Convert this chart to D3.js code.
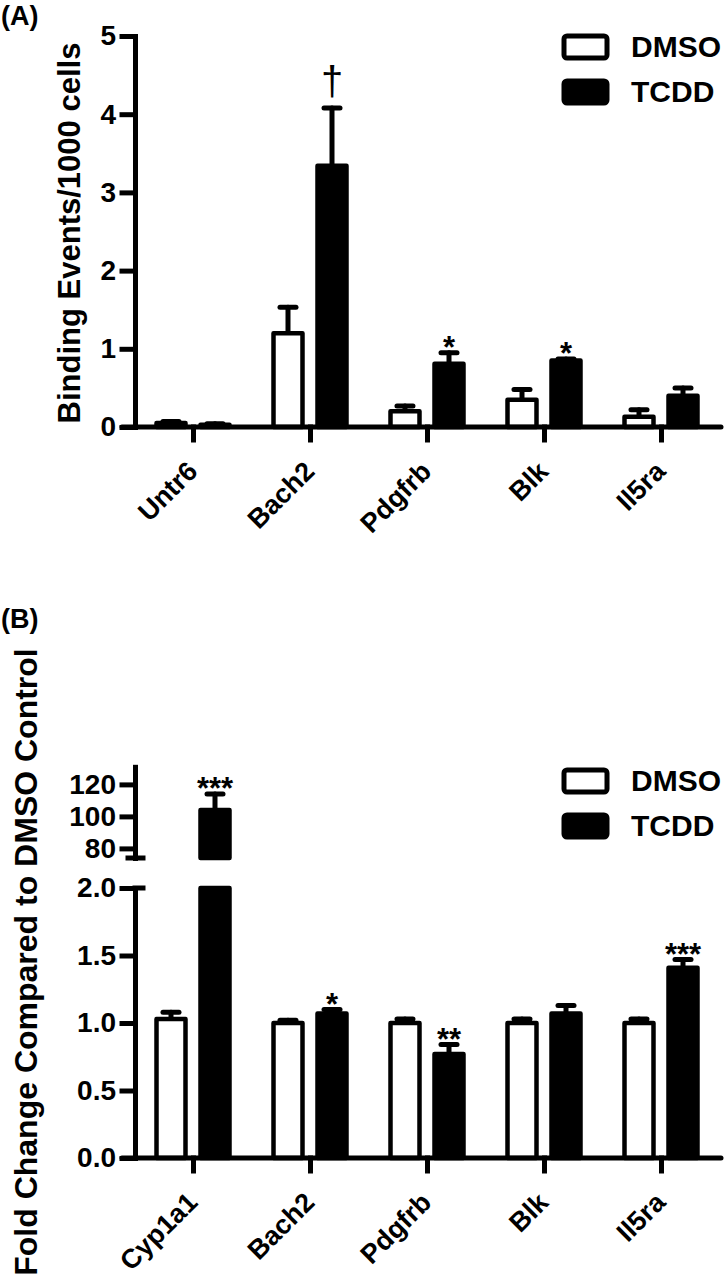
<!DOCTYPE html>
<html><head><meta charset="utf-8">
<script src="https://cdn.jsdelivr.net/npm/d3@7"></script>
<style>
body{margin:0;background:#fff}
svg{display:block}
</style>
</head><body><svg id="chart" width="726" height="1280"></svg>
<script>
// ---------- data ----------
const series = ["DMSO", "TCDD"];

const categoriesA = ["Untr6", "Bach2", "Pdgfrb", "Blk", "Il5ra"];
const dmsoA = [0.05, 1.20, 0.20, 0.35, 0.13];
const dmsoErrA = [0.02, 0.33, 0.07, 0.13, 0.09];
const tcddA = [0.03, 3.34, 0.81, 0.85, 0.40];
const tcddErrA = [0.01, 0.74, 0.14, 0.02, 0.10];
const annotA = ["", "\u2020", "*", "*", ""];
const ticksA = [0, 1, 2, 3, 4, 5];

const categoriesB = ["Cyp1a1", "Bach2", "Pdgfrb", "Blk", "Il5ra"];
const dmsoB = [1.03, 1.00, 1.00, 1.00, 1.00];
const dmsoErrB = [0.05, 0.02, 0.03, 0.03, 0.03];
const tcddB = [104, 1.07, 0.77, 1.07, 1.41];
const tcddErrB = [10, 0.03, 0.07, 0.06, 0.06];
const annotB = ["***", "*", "**", "", "***"];
const ticksBLow = [0, 0.5, 1.0, 1.5, 2.0];
const ticksBHigh = [80, 100, 120];

// ---------- setup ----------
const FONT = "'Liberation Sans', Arial, Helvetica, sans-serif";
const svg = d3.select("#chart");
svg.append("rect").attr("width", 726).attr("height", 1280).attr("fill", "#fff");

const AX_X = 135;
const SW = 5;

function styleAxis(g, fs) {
  g.attr("font-family", FONT).attr("font-size", fs).attr("font-weight", "bold");
  g.selectAll("path.domain").attr("stroke", "#000").attr("stroke-width", SW).attr("stroke-linecap", "square");
  g.selectAll(".tick line").attr("stroke", "#000").attr("stroke-width", SW).attr("stroke-linecap", "square");
  g.selectAll(".tick text").attr("fill", "#000");
}

function makeRows(cats, dm, dmE, tc, tcE) {
  const rows = [];
  cats.forEach((c, i) => {
    rows.push({cat: c, s: "DMSO", v: dm[i], e: dmE[i]});
    rows.push({cat: c, s: "TCDD", v: tc[i], e: tcE[i]});
  });
  return rows;
}

function drawPanel(opt) {
  const g = svg.append("g");
  const x = d3.scalePoint().domain(opt.cats).range([134.5, 719.5]).padding(0.5);
  const xSub = d3.scaleBand().domain(series).range([-36.5, 36.5]).paddingInner(0.341);
  const yLow = opt.yLow, yHigh = opt.yHigh;
  const base = yLow.range()[0];
  const lowMax = yLow.domain()[1];
  const rows = makeRows(opt.cats, opt.dm, opt.dmE, opt.tc, opt.tcE);
  const cx = d => x(d.cat) + xSub(d.s) + xSub.bandwidth() / 2;
  const errY = d => (d.v > lowMax && yHigh) ? yHigh(d.v + d.e) : yLow(d.v + d.e);

  // y axes
  const ay = g.append("g").attr("transform", `translate(${AX_X},0)`)
    .call(d3.axisLeft(yLow).tickValues(opt.ticksLow).tickFormat(opt.fmtLow)
      .tickSize(13).tickPadding(6).tickSizeOuter(0));
  styleAxis(ay, 28);
  if (yHigh) {
    const ah = g.append("g").attr("transform", `translate(${AX_X},0)`)
      .call(d3.axisLeft(yHigh).tickValues(opt.ticksHigh).tickFormat(d3.format("d"))
        .tickSize(13).tickPadding(6).tickSizeOuter(0));
    styleAxis(ah, 28);
    // break marks
    g.append("line").attr("x1", AX_X - 7).attr("x2", AX_X + 8)
      .attr("y1", yHigh.range()[0]).attr("y2", yHigh.range()[0])
      .attr("stroke", "#000").attr("stroke-width", SW).attr("stroke-linecap", "square");
    g.append("line").attr("x1", AX_X).attr("x2", AX_X + 8)
      .attr("y1", yLow.range()[1]).attr("y2", yLow.range()[1])
      .attr("stroke", "#000").attr("stroke-width", SW).attr("stroke-linecap", "square");
  }

  // error bars
  const eg = g.append("g").attr("stroke", "#000").attr("stroke-width", SW).attr("stroke-linecap", "round");
  rows.forEach(d => {
    const top = (d.v > lowMax && yHigh) ? yHigh(d.v) : yLow(d.v);
    eg.append("line").attr("x1", cx(d)).attr("x2", cx(d)).attr("y1", top).attr("y2", errY(d));
    eg.append("line").attr("x1", cx(d) - 8).attr("x2", cx(d) + 8).attr("y1", errY(d)).attr("y2", errY(d));
  });

  // bars (lower segment)
  g.append("g").selectAll("rect").data(rows).join("rect")
    .attr("x", d => x(d.cat) + xSub(d.s))
    .attr("width", xSub.bandwidth())
    .attr("y", d => yLow(Math.min(d.v, lowMax)))
    .attr("height", d => base - yLow(Math.min(d.v, lowMax)))
    .attr("fill", d => d.s === "DMSO" ? "#fff" : "#000")
    .attr("stroke", "#000").attr("stroke-width", 4.5).attr("stroke-linejoin", "round");

  // bars (upper segment)
  if (yHigh) {
    g.append("g").selectAll("rect").data(rows.filter(d => d.v > lowMax)).join("rect")
      .attr("x", d => x(d.cat) + xSub(d.s))
      .attr("width", xSub.bandwidth())
      .attr("y", d => yHigh(d.v))
      .attr("height", d => yHigh.range()[0] - yHigh(d.v))
      .attr("fill", d => d.s === "DMSO" ? "#fff" : "#000")
      .attr("stroke", "#000").attr("stroke-width", 4.5).attr("stroke-linejoin", "round");
  }

  // x axis
  g.append("line").attr("x1", 122).attr("x2", 721).attr("y1", base).attr("y2", base)
    .attr("stroke", "#000").attr("stroke-width", SW).attr("stroke-linecap", "round");
  const ax = g.append("g").attr("transform", `translate(0,${base})`)
    .call(d3.axisBottom(x).tickSize(13).tickSizeOuter(0).tickFormat(""));
  ax.select("path.domain").remove();
  styleAxis(ax, 27);

  // rotated category labels
  g.append("g").selectAll("text").data(opt.cats).join("text")
    .attr("transform", d => `translate(${x(d) + 6},${base + 46}) rotate(-45)`)
    .attr("text-anchor", "end")
    .attr("font-family", FONT).attr("font-weight", "bold").attr("font-size", 27)
    .attr("fill", "#000")
    .text(d => d);

  // annotations
  const tcRows = rows.filter(d => d.s === "TCDD");
  g.append("g").selectAll("text").data(tcRows).join("text")
    .attr("x", d => cx(d))
    .attr("y", (d, i) => opt.annot[i] === "\u2020" ? errY(d) - 13 : errY(d) + 5)
    .attr("text-anchor", "middle")
    .attr("font-family", FONT)
    .attr("font-weight", (d, i) => opt.annot[i] === "\u2020" ? "normal" : "bold")
    .attr("font-size", (d, i) => opt.annot[i] === "\u2020" ? 40 : 31)
    .text((d, i) => opt.annot[i]);

  // y label
  g.append("text")
    .attr("transform", `translate(${opt.labelX},${opt.labelY}) rotate(-90)`)
    .attr("text-anchor", "middle")
    .attr("font-family", FONT).attr("font-weight", "bold").attr("font-size", opt.labelSize)
    .text(opt.label);

  // legend
  const lg = g.append("g");
  series.forEach((s, i) => {
    lg.append("rect").attr("x", 564).attr("y", opt.legY + i * 45).attr("width", 43).attr("height", 22)
      .attr("rx", 3)
      .attr("fill", s === "DMSO" ? "#fff" : "#000")
      .attr("stroke", "#000").attr("stroke-width", 5);
    lg.append("text").attr("x", 631).attr("y", opt.legY + 21 + i * 45)
      .attr("font-family", FONT).attr("font-weight", "bold").attr("font-size", 30)
      .text(s);
  });

  // panel letter
  g.append("text").attr("x", 1).attr("y", opt.letterY)
    .attr("font-family", FONT).attr("font-weight", "bold").attr("font-size", 27)
    .text(opt.letter);
}

drawPanel({
  cats: categoriesA, dm: dmsoA, dmE: dmsoErrA, tc: tcddA, tcE: tcddErrA, annot: annotA,
  yLow: d3.scaleLinear().domain([0, 5]).range([427, 36]), yHigh: null,
  ticksLow: ticksA, fmtLow: d3.format("d"),
  label: "Binding Events/1000 cells", labelX: 80, labelY: 233, labelSize: 31,
  legY: 36, letter: "(A)", letterY: 25
});

drawPanel({
  cats: categoriesB, dm: dmsoB, dmE: dmsoErrB, tc: tcddB, tcE: tcddErrB, annot: annotB,
  yLow: d3.scaleLinear().domain([0, 2]).range([1158, 888]),
  yHigh: d3.scaleLinear().domain([74, 131]).range([858, 766.8]),
  ticksLow: ticksBLow, fmtLow: d3.format(".1f"), ticksHigh: ticksBHigh,
  label: "Fold Change Compared to DMSO Control", labelX: 37, labelY: 962, labelSize: 32,
  legY: 770, letter: "(B)", letterY: 628
});
</script>
</body></html>
